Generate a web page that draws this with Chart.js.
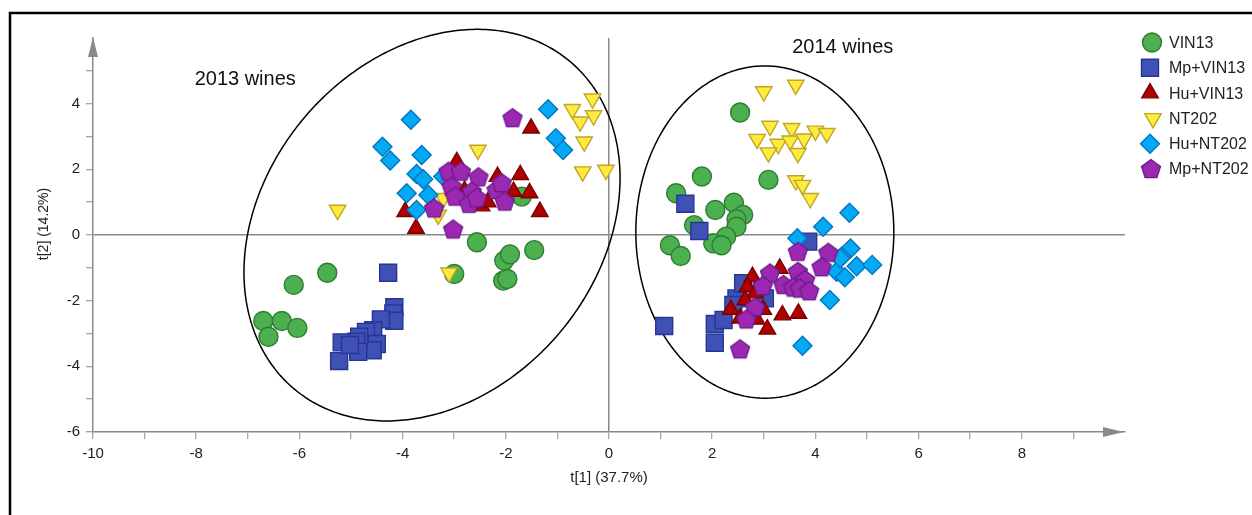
<!DOCTYPE html>
<html><head><meta charset="utf-8">
<script src="https://cdn.jsdelivr.net/npm/chart.js@4.4.1/dist/chart.umd.min.js"></script>
<style>html,body{margin:0;padding:0;background:#fff;} canvas{display:block;}</style>
</head><body>
<canvas id="c" width="1252" height="515"></canvas>
<script>
// ---- data ----
const seriesNames = ["VIN13", "Mp+VIN13", "Hu+VIN13", "NT202", "Hu+NT202", "Mp+NT202"];

const vin13X = [-2.56,-1.45,-2.03,-1.92,-3.00,-2.05,-1.97,-5.46,-6.11,-6.70,-6.34,-6.04,-6.60,-1.69,
                 2.54,1.80,3.09,1.30,2.06,2.42,2.60,2.47,2.47,1.65,2.27,2.02,2.18,1.18,1.39];
const vin13Y = [-0.22,-0.46,-0.78,-0.59,-1.19,-1.39,-1.34,-1.15,-1.52,-2.62,-2.62,-2.83,-3.10,1.17,
                 3.73,1.78,1.68,1.27,0.76,0.98,0.61,0.48,0.25,0.30,-0.05,-0.25,-0.31,-0.31,-0.64];

const mpVin13X = [-4.28,-4.16,-4.18,-4.16,-4.42,-4.57,-4.71,-4.50,-4.58,-4.84,-4.90,-4.86,-5.18,-5.23,-5.02,
                  1.48,1.75,3.86,1.07,2.05,2.05,2.22,2.47,2.60,3.02,2.41];
const mpVin13Y = [-1.15,-2.20,-2.39,-2.61,-2.57,-2.90,-2.95,-3.32,-3.51,-3.10,-3.25,-3.56,-3.27,-3.84,-3.35,
                  0.95,0.12,-0.20,-2.77,-2.71,-3.28,-2.59,-1.93,-1.47,-1.93,-2.13];

const huVin13X = [-1.51,-1.72,-2.16,-1.85,-1.54,-1.34,-2.47,-2.95,-3.95,-3.74,-2.80,-2.35,
                  3.31,2.78,2.68,2.83,2.36,2.99,2.54,2.86,3.36,3.67,3.07,2.64];
const huVin13Y = [3.25,1.83,1.78,1.32,1.28,0.71,0.88,2.23,0.71,0.20,1.35,1.00,
                  -1.02,-1.27,-1.58,-1.77,-2.27,-2.27,-2.54,-2.57,-2.44,-2.39,-2.87,-1.98];

const nt202X = [-0.32,-0.71,-0.30,-0.56,-0.48,-0.51,-0.06,-2.54,-3.10,-5.26,-3.21,-3.31,
                3.00,3.62,3.12,3.54,4.00,4.22,2.87,3.28,3.51,3.78,3.09,3.66,3.62,3.75,3.90];
const nt202Y = [4.15,3.83,3.64,3.45,2.84,1.93,1.98,2.59,-1.15,0.76,1.12,0.61,
                4.37,4.57,3.32,3.25,3.17,3.10,2.92,2.77,2.87,2.93,2.51,2.49,1.66,1.52,1.12];

const huNt202X = [-3.84,-4.39,-4.24,-3.63,-3.73,-3.60,-3.92,-3.50,-3.73,-3.21,-1.18,-1.03,-0.89,
                  4.66,4.15,3.65,4.68,4.51,4.80,5.10,4.41,4.57,4.28,3.75,4.48];
const huNt202Y = [3.51,2.69,2.27,2.44,1.86,1.70,1.27,1.22,0.76,1.78,3.83,2.95,2.59,
                  0.68,0.25,-0.10,-0.41,-0.66,-0.95,-0.91,-1.12,-1.29,-1.98,-3.37,-0.71];

const mpNt202X = [-1.87,-3.11,-2.87,-2.53,-3.05,-2.66,-2.98,-2.71,-2.56,-2.18,-2.08,-2.02,-3.39,-3.02,
                  3.66,4.25,4.12,3.12,3.66,3.80,3.38,3.57,3.70,3.88,2.98,2.83,2.66,2.54];
const mpNt202Y = [3.56,1.93,1.93,1.76,1.47,1.32,1.17,0.95,1.12,1.37,1.58,1.02,0.81,0.17,
                  -0.51,-0.54,-0.98,-1.17,-1.12,-1.37,-1.52,-1.60,-1.63,-1.71,-1.55,-2.20,-2.57,-3.48];

const xTickLabels = [-10,-8,-6,-4,-2,0,2,4,6,8];
const yTickLabels = [-6,-4,-2,0,2,4];
const xTitle = "t[1] (37.7%)";
const yTitle = "t[2] (14.2%)";
const groupLabels = ["2013 wines", "2014 wines"];
const groupLabelX = [-7.05, 4.53];
const groupLabelY = [4.73, 5.70];
// ellipses: center and two conjugate half-diameters (data units)
const ellCenterX = [-3.43, 3.02];
const ellCenterY = [0.30, 0.09];
const ellUx = [2.686, 2.50], ellUy = [4.970, 0];
const ellVx = [2.463, 0], ellVy = [-3.296, 5.06];

// ---- styles ----
const FONT = "'Liberation Sans', Arial, Helvetica, sans-serif";
const fills   = ['#4CAF50', '#3F51B5', '#B00000', '#FFEB3B', '#03A9F4', '#9C27B0'];
const borders = ['#2E7D32', '#283593', '#7A0000', '#BFA52A', '#0277BD', '#6A1B8A'];

function makePentagon(fill, stroke) {
  const cv = document.createElement('canvas');
  cv.width = 24; cv.height = 24;
  const g = cv.getContext('2d');
  const R = 10, cx = 12, cy = 12.5;
  g.beginPath();
  for (let i = 0; i < 5; i++) {
    const a = -Math.PI / 2 + i * 2 * Math.PI / 5;
    const px = cx + R * Math.cos(a), py = cy + R * Math.sin(a);
    if (i === 0) g.moveTo(px, py); else g.lineTo(px, py);
  }
  g.closePath();
  g.fillStyle = fill; g.fill();
  g.lineWidth = 1.3; g.strokeStyle = stroke; g.stroke();
  return cv;
}
const pentagon = makePentagon(fills[5], borders[5]);

const pointStyles = ['circle', 'rect', 'triangle', 'triangle', 'rectRot', pentagon];
const pointRot = [0, 0, 0, 180, 0, 0];
const pointRad = [9.5, 12, 9.5, 9.5, 9.5, 10];

const xs = [vin13X, mpVin13X, huVin13X, nt202X, huNt202X, mpNt202X];
const ys = [vin13Y, mpVin13Y, huVin13Y, nt202Y, huNt202Y, mpNt202Y];

const datasets = seriesNames.map((name, i) => ({
  label: name,
  data: xs[i].map((x, k) => ({x: x, y: ys[i][k]})),
  pointStyle: pointStyles[i],
  rotation: pointRot[i],
  pointRadius: pointRad[i],
  pointHoverRadius: pointRad[i],
  backgroundColor: fills[i],
  borderColor: borders[i],
  borderWidth: 1.4,
  order: seriesNames.length - i
}));

const AXIS_GRAY = '#8a8a8a';

const decor = {
  id: 'decor',
  beforeDatasetsDraw(chart) {
    const ctx = chart.ctx, xs_ = chart.scales.x, ys_ = chart.scales.y;
    ctx.save();
    ctx.strokeStyle = '#000';
    ctx.lineWidth = 1.5;
    for (let e = 0; e < ellCenterX.length; e++) {
      ctx.beginPath();
      for (let s = 0; s <= 360; s++) {
        const t = s * Math.PI / 180;
        const dx = ellCenterX[e] + ellUx[e] * Math.cos(t) + ellVx[e] * Math.sin(t);
        const dy = ellCenterY[e] + ellUy[e] * Math.cos(t) + ellVy[e] * Math.sin(t);
        const px = xs_.getPixelForValue(dx), py = ys_.getPixelForValue(dy);
        if (s === 0) ctx.moveTo(px, py); else ctx.lineTo(px, py);
      }
      ctx.closePath();
      ctx.stroke();
    }
    ctx.restore();
  },
  afterDraw(chart) {
    const ctx = chart.ctx, a = chart.chartArea;
    const sx = chart.scales.x, sy = chart.scales.y;
    ctx.save();
    // frame
    ctx.strokeStyle = '#000'; ctx.lineWidth = 2.5;
    ctx.beginPath();
    ctx.moveTo(10, 515); ctx.lineTo(10, 13); ctx.lineTo(1252, 13);
    ctx.stroke();
    // arrows
    ctx.fillStyle = AXIS_GRAY;
    ctx.beginPath();
    ctx.moveTo(a.left, a.top - 1); ctx.lineTo(a.left - 5, a.top + 19); ctx.lineTo(a.left + 5, a.top + 19);
    ctx.closePath(); ctx.fill();
    ctx.beginPath();
    ctx.moveTo(a.right - 1, a.bottom); ctx.lineTo(a.right - 22, a.bottom - 5); ctx.lineTo(a.right - 22, a.bottom + 5);
    ctx.closePath(); ctx.fill();
    // axis titles
    ctx.fillStyle = '#222';
    ctx.font = '15px ' + FONT;
    ctx.textAlign = 'center'; ctx.textBaseline = 'middle';
    ctx.fillText(xTitle, (a.left + a.right) / 2, 478);
    ctx.save();
    ctx.font = '14px ' + FONT;
    ctx.translate(44, 224);
    ctx.rotate(-Math.PI / 2);
    ctx.fillText(yTitle, 0, 0);
    ctx.restore();
    // group labels
    ctx.fillStyle = '#111';
    ctx.font = '20px ' + FONT;
    for (let g = 0; g < groupLabels.length; g++) {
      ctx.fillText(groupLabels[g], sx.getPixelForValue(groupLabelX[g]), sy.getPixelForValue(groupLabelY[g]));
    }
    // legend
    ctx.font = '16px ' + FONT;
    ctx.textAlign = 'left';
    const lx = [1152, 1150, 1150, 1153, 1150, 1151];
    for (let i = 0; i < seriesNames.length; i++) {
      const y = 42.5 + i * 25.3;
      ctx.fillStyle = fills[i]; ctx.strokeStyle = borders[i]; ctx.lineWidth = 1.4;
      Chart.helpers.drawPoint(ctx, {
        pointStyle: pointStyles[i], rotation: pointRot[i], radius: pointRad[i], borderWidth: 1.4
      }, lx[i], y);
      ctx.fillStyle = '#222';
      ctx.fillText(seriesNames[i], 1169, y + 1);
    }
    ctx.restore();
  }
};

new Chart(document.getElementById('c'), {
  type: 'scatter',
  data: { datasets },
  options: {
    responsive: false,
    animation: false,
    devicePixelRatio: 1,
    layout: { padding: { left: 0, right: 127, top: 38, bottom: 0 } },
    plugins: { legend: { display: false }, tooltip: { enabled: false } },
    scales: {
      x: {
        type: 'linear', min: -10, max: 10,
        afterFit(s) { s.height = 83; },
        border: { display: true, color: AXIS_GRAY, width: 1.5 },
        grid: {
          drawOnChartArea: true, drawTicks: true, tickLength: 7,
          color: c => (c.tick && c.tick.value === 0) ? AXIS_GRAY : 'rgba(0,0,0,0)',
          lineWidth: 1.5,
          tickColor: c => (c.tick && c.tick.value >= 10) ? 'rgba(0,0,0,0)' : AXIS_GRAY,
          tickWidth: 1
        },
        ticks: {
          stepSize: 1, autoSkip: false, maxRotation: 0, padding: 6,
          color: '#222', font: { family: FONT, size: 15 },
          callback: v => xTickLabels.includes(v) ? String(v) : ''
        }
      },
      y: {
        type: 'linear', min: -6, max: 6,
        afterFit(s) { s.width = 93; },
        border: { display: true, color: AXIS_GRAY, width: 1.5 },
        grid: {
          drawOnChartArea: true, drawTicks: true, tickLength: 7,
          color: c => (c.tick && c.tick.value === 0) ? AXIS_GRAY : 'rgba(0,0,0,0)',
          lineWidth: 1.5,
          tickColor: c => (c.tick && c.tick.value >= 6) ? 'rgba(0,0,0,0)' : AXIS_GRAY,
          tickWidth: 1
        },
        ticks: {
          stepSize: 1, autoSkip: false, padding: 6,
          color: '#222', font: { family: FONT, size: 15 },
          callback: v => yTickLabels.includes(v) ? String(v) : ''
        }
      }
    }
  },
  plugins: [decor]
});
</script>
</body></html>
